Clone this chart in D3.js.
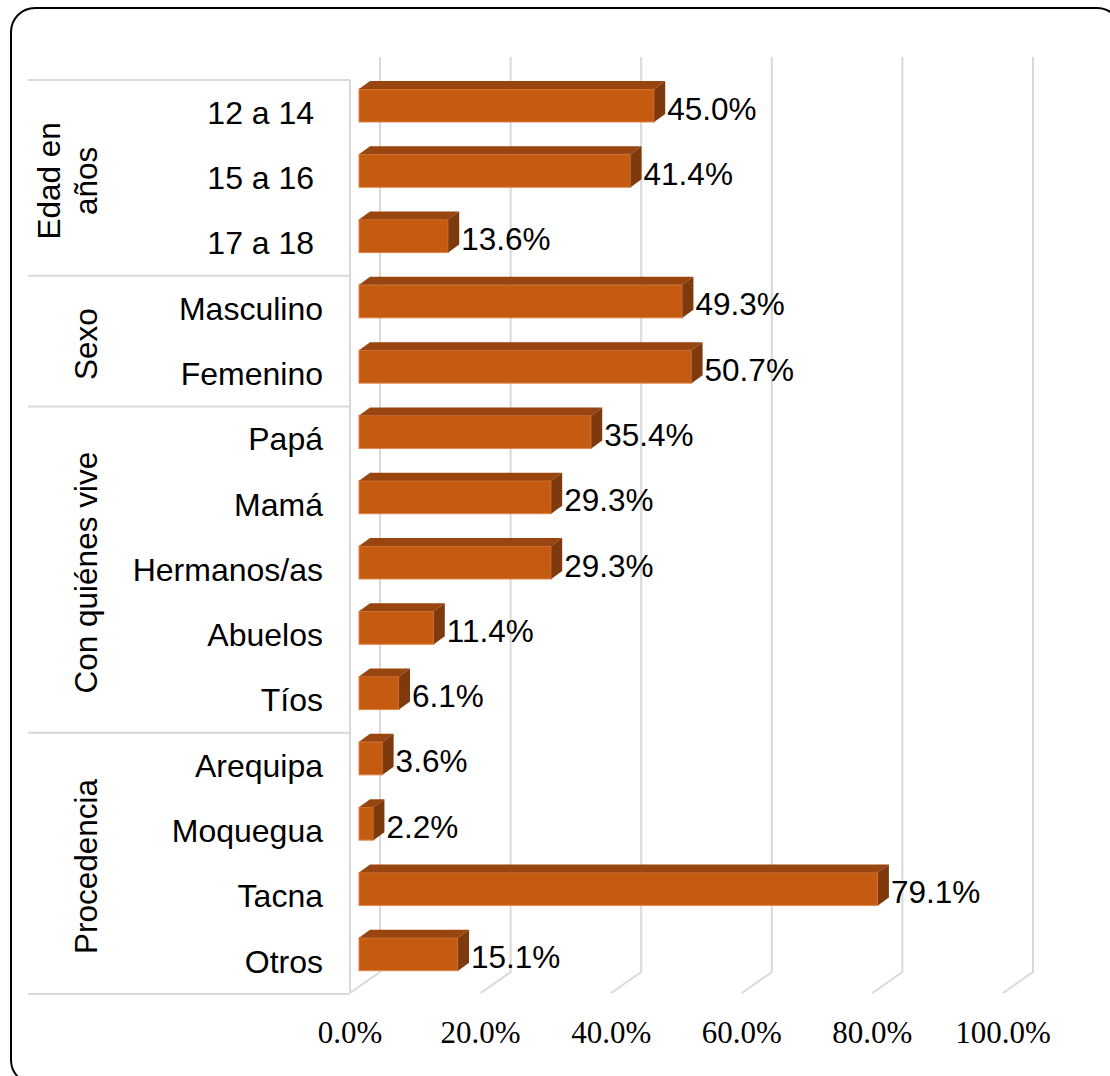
<!DOCTYPE html>
<html>
<head>
<meta charset="utf-8">
<script src="https://cdn.jsdelivr.net/npm/d3@7"></script>
<style>
  body { margin: 0; background: #fff; }
  text { font-family: Arial, "Liberation Sans", sans-serif; }
</style>
</head>
<body>
<div class="chart"></div>
<script>
const categories = ["12 a 14 ", "15 a 16 ", "17 a 18 ", "Masculino", "Femenino",
  "Papá", "Mamá", "Hermanos/as", "Abuelos", "Tíos",
  "Arequipa", "Moquegua", "Tacna", "Otros"];
const values = [45.0, 41.4, 13.6, 49.3, 50.7, 35.4, 29.3, 29.3, 11.4, 6.1, 3.6, 2.2, 79.1, 15.1];
const groupLabels = [["Edad en", "años"], ["Sexo"], ["Con quiénes vive"], ["Procedencia"]];
const groupCounts = [3, 2, 5, 4];
const ticks = [0, 20, 40, 60, 80, 100];

const width = 1110, height = 1076;
const svg = d3.select('.chart').append('svg')
  .attr('width', width)
  .attr('height', height);

// frame
svg.append('rect')
  .attr('x', 11).attr('y', 8)
  .attr('width', 1110).attr('height', 1076)
  .attr('rx', 24)
  .attr('fill', 'none')
  .attr('stroke', '#000')
  .attr('stroke-width', 2);

// 3D offsets
const depthX = 30, depthY = -21;   // floor depth
const barDX = 11, barDY = -8;      // bar depth

const x = d3.scaleLinear().domain([0, 100]).range([350, 1003]);
const xBar = d3.scaleLinear().domain([0, 100]).range([359, 1015]);
const y = d3.scaleBand().domain(categories).range([80, 994]).padding(0);
const gridTop = 57, floorY = 993;

// gridlines on back wall + floor
const grid = svg.append('g').attr('stroke', '#d9d9d9').attr('stroke-width', 2).attr('fill', 'none');
grid.selectAll('path')
  .data(ticks)
  .enter()
  .append('path')
  .attr('d', d => `M${x(d)},${floorY}L${x(d) + depthX},${floorY + depthY}L${x(d) + depthX},${gridTop}`);

// category axis line and group separators
grid.append('line')
  .attr('x1', 350).attr('x2', 350)
  .attr('y1', 80).attr('y2', floorY);

let starts = [0];
groupCounts.forEach((c, i) => starts.push(starts[i] + c));
const sepY = i => i < categories.length ? y(categories[i]) : y.range()[1];
grid.selectAll('line.sep')
  .data(starts)
  .enter()
  .append('line')
  .attr('class', 'sep')
  .attr('x1', 28).attr('x2', 350)
  .attr('y1', d => sepY(d))
  .attr('y2', d => sepY(d));

// bars
const bars = svg.selectAll('g.bar')
  .data(values.map((v, i) => ({cat: categories[i], v: v})))
  .enter()
  .append('g')
  .attr('class', 'bar');

const bh = 33;
bars.append('rect')
  .attr('x', xBar(0))
  .attr('y', d => y(d.cat) + 9)
  .attr('width', d => xBar(d.v) - xBar(0))
  .attr('height', bh)
  .attr('fill', '#c55a11')
  .attr('stroke', '#e0844a')
  .attr('stroke-width', 1);

bars.append('path')
  .attr('d', d => {
    const x0 = xBar(0), x1 = xBar(d.v), t = y(d.cat) + 9;
    return `M${x0},${t}L${x0 + barDX},${t + barDY}L${x1 + barDX},${t + barDY}L${x1},${t}Z`;
  })
  .attr('fill', '#98450f');

bars.append('path')
  .attr('d', d => {
    const x1 = xBar(d.v), t = y(d.cat) + 9;
    return `M${x1},${t}L${x1 + barDX},${t + barDY}L${x1 + barDX},${t + bh + barDY}L${x1},${t + bh}Z`;
  })
  .attr('fill', '#7e390c');

// value labels
bars.append('text')
  .text(d => d.v.toFixed(1) + '%')
  .attr('x', d => xBar(d.v) + barDX + 2)
  .attr('y', d => y(d.cat) + 9 + bh / 2 + 3)
  .attr('dy', '0.35em')
  .attr('font-size', 31.5)
  .attr('fill', '#000');

// category labels
svg.selectAll('text.cat')
  .data(categories)
  .enter()
  .append('text')
  .attr('class', 'cat')
  .text(d => d)
  .style('white-space', 'pre')
  .attr('x', 323)
  .attr('y', d => y(d) + y.bandwidth() / 2)
  .attr('dy', '0.35em')
  .attr('text-anchor', 'end')
  .attr('font-size', 32);

// group labels (rotated)
groupLabels.forEach((lines, i) => {
  const cy = (sepY(starts[i]) + sepY(starts[i + 1])) / 2 + 3;
  const t = svg.append('text')
    .attr('transform', `translate(97,${cy}) rotate(-90)`)
    .attr('text-anchor', 'middle')
    .attr('font-size', 31.5);
  lines.forEach((l, j) => {
    t.append('tspan')
      .attr('x', 0)
      .attr('y', (j - (lines.length - 1)) * 37)
      .text(l);
  });
});

// value axis tick labels
svg.selectAll('text.tick')
  .data(ticks)
  .enter()
  .append('text')
  .attr('class', 'tick')
  .text(d => d3.format('.1f')(d) + '%')
  .attr('x', d => x(d))
  .attr('y', 1043)
  .attr('text-anchor', 'middle')
  .attr('font-size', 31)
  .style('font-family', '"Liberation Serif", "Times New Roman", serif');
</script>
</body>
</html>
